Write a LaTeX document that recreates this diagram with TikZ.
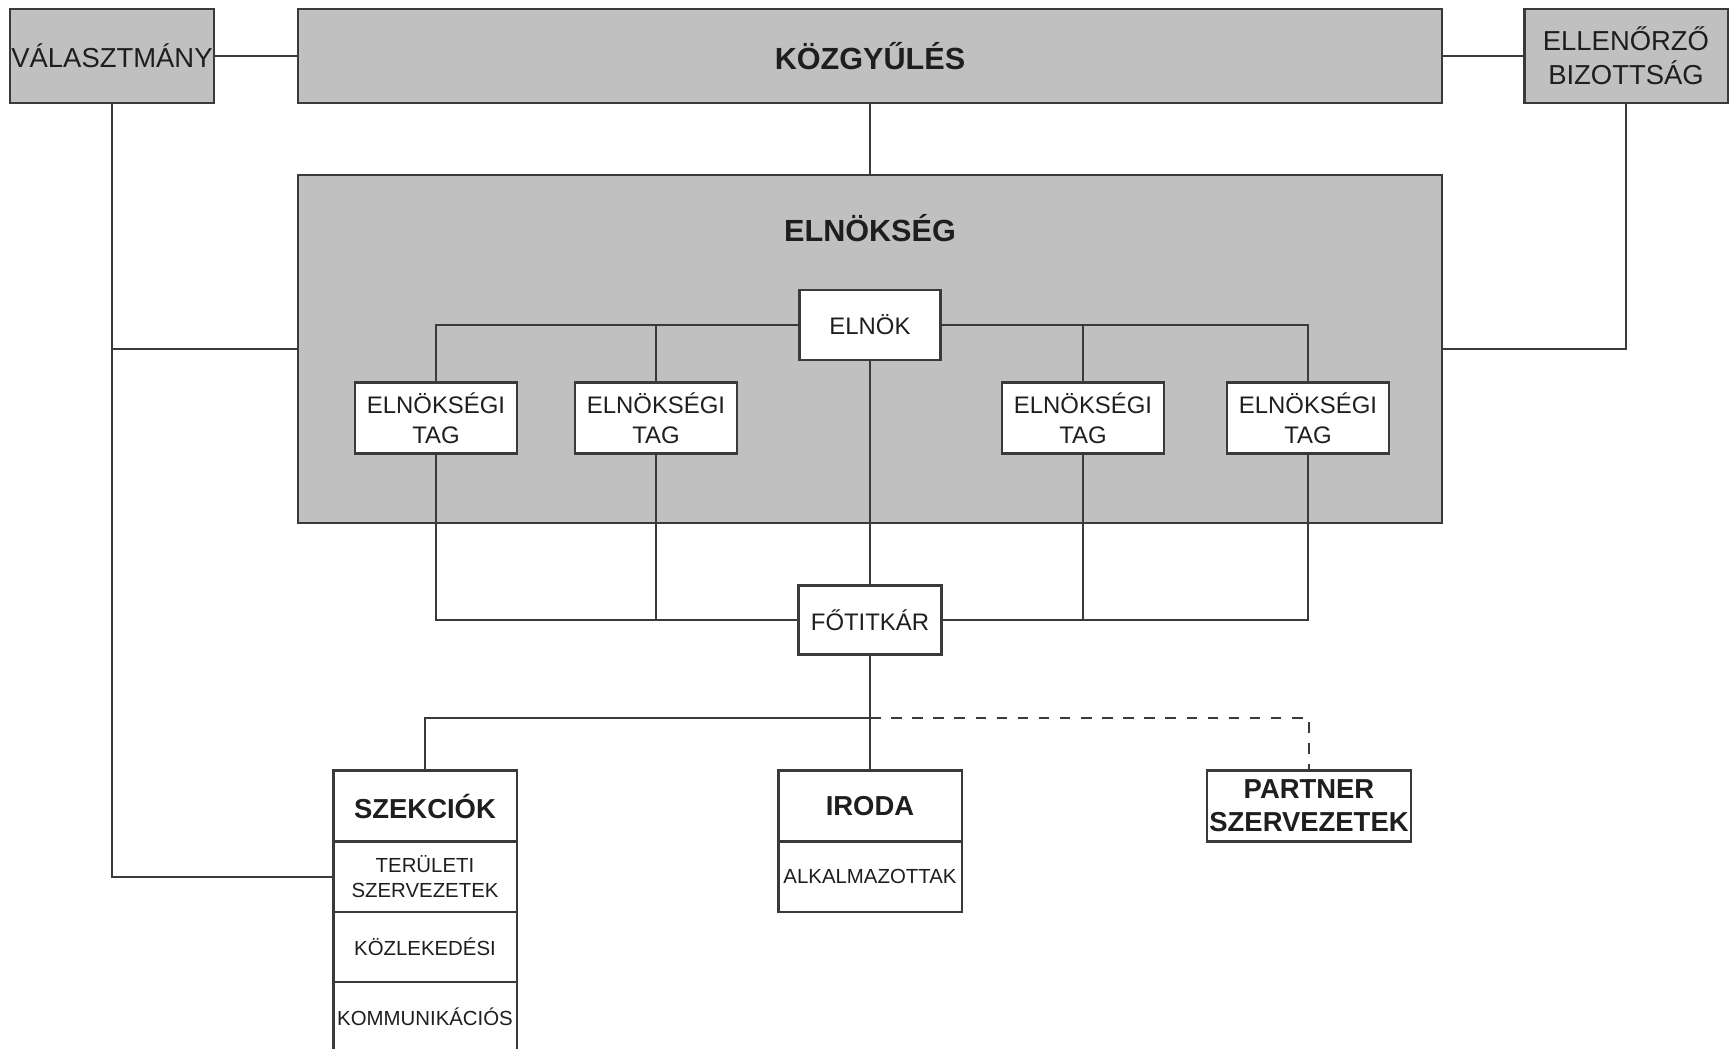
\documentclass[tikz,border=0pt]{standalone}
\usepackage{fontspec}
\setmainfont{Liberation Sans}
\usetikzlibrary{positioning}

\definecolor{hatter}{HTML}{C0C0C0}
\definecolor{keret}{HTML}{3A3A3A}
\definecolor{betu}{HTML}{1E1E1E}

\newcommand{\fofelirat}{\fontsize{8.7}{10}\selectfont\bfseries}
\newcommand{\kozepes}{\fontsize{7.8}{9.7}\selectfont}
\newcommand{\kozepesfelkover}{\fontsize{7.8}{9.4}\selectfont\bfseries}
\newcommand{\kicsi}{\fontsize{6.8}{8.5}\selectfont}
\newcommand{\apro}{\fontsize{5.8}{7.2}\selectfont}

\begin{document}
\begin{tikzpicture}[x=0.01cm,y=-0.01cm,
    szurke/.style={draw=keret,fill=hatter,line width=0.6pt,inner sep=0pt,outer sep=0pt,align=center,text=betu},
    feher/.style={draw=keret,fill=white,line width=0.6pt,inner sep=0pt,outer sep=0pt,align=center,text=betu},
    vonal/.style={draw=keret,line width=0.6pt}]
    \useasboundingbox (0,0) rectangle (1733,1048);
    % Top row
    \node[szurke, minimum width=2.03cm, minimum height=0.94cm, font=\kozepes] (valaszt) at (112,56) {VÁLASZTMÁNY};
    \node[szurke, minimum width=11.43cm, minimum height=0.94cm, font=\fofelirat] (kozgy) at (870,56) {KÖZGYŰLÉS};
    \node[szurke, minimum width=2.03cm, minimum height=0.94cm, font=\kozepes] (ellen) at (1626,56) {ELLENŐRZŐ\\BIZOTTSÁG};
    % Board
    \node[szurke, minimum width=11.43cm, minimum height=3.48cm] (elnokseg) at (870,349) {};
    \node[font=\fofelirat, text=betu] (elnoksegtxt) at (870,228) {ELNÖKSÉG};
    \node[feher, minimum width=1.41cm, minimum height=0.70cm, font=\kicsi] (elnok) at (870,325) {ELNÖK};
    \foreach \n/\x in {1/436, 2/656, 3/1083, 4/1308} {
        \node[feher, minimum width=1.62cm, minimum height=0.71cm, font=\kicsi] (tag\n) at (\x,418) {ELNÖKSÉGI\\TAG};
    }
    \node[feher, minimum width=1.43cm, minimum height=0.69cm, font=\kicsi] (fotitkar) at (870,620) {FŐTITKÁR};
    % Bottom row
    \node[feher, minimum width=1.83cm, minimum height=0.71cm, font=\kozepesfelkover] (szekc) at (425,806) {SZEKCIÓK};
    \node[feher, minimum width=1.83cm, minimum height=0.70cm, font=\apro, below=0pt of szekc] (terul) {TERÜLETI\\SZERVEZETEK};
    \node[feher, minimum width=1.83cm, minimum height=0.70cm, font=\apro, below=0pt of terul] (kozlek) {KÖZLEKEDÉSI};
    \node[feher, minimum width=1.83cm, minimum height=0.70cm, font=\apro, below=0pt of kozlek] (kommun) {KOMMUNIKÁCIÓS};
    \node[feher, minimum width=1.83cm, minimum height=0.71cm, font=\kozepesfelkover] (iroda) at (870,806) {IRODA};
    \node[feher, minimum width=1.83cm, minimum height=0.70cm, font=\apro, below=0pt of iroda] (alkalm) {ALKALMAZOTTAK};
    \node[feher, minimum width=2.04cm, minimum height=0.71cm, font=\kozepesfelkover] (partner) at (1309,806) {PARTNER\\SZERVEZETEK};
    % Connectors
    \draw[vonal] (valaszt.east) -- (kozgy.west);
    \draw[vonal] (kozgy.east) -- (ellen.west);
    \draw[vonal] (kozgy.south) -- (elnokseg.north);
    \draw[vonal] (valaszt.south) |- (terul.west);
    \draw[vonal] (valaszt.south |- elnokseg.west) -- (elnokseg.west);
    \draw[vonal] (ellen.south) |- (elnokseg.east);
    \draw[vonal] (elnok.west) -| (tag1.north);
    \draw[vonal] (elnok.east) -| (tag4.north);
    \foreach \n in {2,3} {
        \draw[vonal] (tag\n.north) -- (tag\n.north |- elnok.west);
        \draw[vonal] (tag\n.south) -- (tag\n.south |- fotitkar.west);
    }
    \draw[vonal] (tag1.south) |- (fotitkar.west);
    \draw[vonal] (tag4.south) |- (fotitkar.east);
    \draw[vonal] (elnok.south) -- (fotitkar.north);
    \coordinate (elagazas) at (870,718);
    \draw[vonal] (fotitkar.south) -- (iroda.north);
    \draw[vonal] (elagazas) -| (szekc.north);
    \draw[vonal, dashed] (elagazas) -| (partner.north);
\end{tikzpicture}
\end{document}
